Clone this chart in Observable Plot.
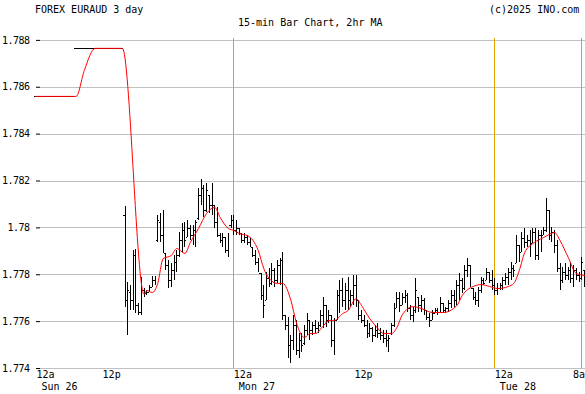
<!DOCTYPE html>
<html><head><meta charset="utf-8">
<script src="https://cdn.jsdelivr.net/npm/d3@7"></script>
<script src="https://cdn.jsdelivr.net/npm/@observablehq/plot@0.6"></script>
<style>
html,body{margin:0;padding:0;background:#fff;}
#wrap{position:relative;width:585px;height:394px;overflow:hidden;font-family:"DejaVu Sans Mono",monospace;font-size:10px;color:#000;background:#fff;}
#head{position:relative;height:30px;}
.t{position:absolute;line-height:10px;white-space:pre;}
#chart svg line{shape-rendering:crispEdges;}
#chart svg g[aria-label="y-axis tick label"] text{letter-spacing:-0.5px;}
</style></head><body>
<div id="wrap">
<div id="head">
<div class="t" style="left:35px;top:5px">FOREX EURAUD 3 day</div>
<div class="t" style="left:238px;top:18px">15-min Bar Chart, 2hr MA</div>
<div class="t" style="left:489px;top:5px">(c)2025 INO.com</div>
</div>
<div id="chart"></div>
</div>
<script>
// y axis
const yTicks = [1.774, 1.776, 1.778, 1.780, 1.782, 1.784, 1.786, 1.788];
const yTickLabels = ["1.774","1.776","1.778","1.78","1.782","1.784","1.786","1.788"];
// x axis (hours from Mon 12a, weekend compressed)
const timeLabels = ["12a","12p","12a","12p","12a","8a"];
const timeLabelHours = [-18.15, -12.07, 0, 11.1, 24, 31.2];
const dayLabels = ["Sun 26","Mon 27","Tue 28"];
const dayLabelHours = [-18.15, 0, 24];
const sessionLines = [0, 24, 32];
// Sunday quotes (flat bars)
const sundayHourStart = -18.25;
const sundayQuotes = [
1.78561,1.78561,1.78561,1.78561,1.78561,1.78561,1.78561,1.78561,1.78561,1.78561,1.78561,1.78561,1.78561,1.78561,1.78561,
1.78766,1.78766,1.78766,1.78766,1.78766,1.78766,1.78766,1.78766,1.78766,1.78766,1.78766,1.78766,1.78766,1.78766,1.78766,1.78766,1.78766,1.78766];
// 15-min bars
const barHourStart = -10;
const barOpen = [
1.78053,1.77690,1.77724,1.77690,1.77882,1.77668,1.77639,1.77733,1.77720,1.77724,
1.77745,1.77775,1.77946,1.78023,1.77967,1.77890,1.77839,1.77775,1.77818,1.77852,
1.77882,1.77946,1.77989,1.77959,1.77997,1.77967,1.77989,1.78040,1.78138,1.78168,
1.78074,1.78138,1.78095,1.78095,1.78023,1.77967,1.77946,1.77959,1.77903,1.78010,
1.78031,1.77989,1.77997,1.77976,1.77946,1.77959,1.77937,1.77916,1.77882,1.77852,
1.77805,1.77711,1.77690,1.77784,1.77762,1.77818,1.77775,1.77839,1.77861,1.77626,
1.77583,1.77498,1.77519,1.77583,1.77476,1.77519,1.77506,1.77562,1.77604,1.77562,
1.77583,1.77570,1.77583,1.77626,1.77668,1.77604,1.77626,1.77519,1.77604,1.77711,
1.77733,1.77690,1.77733,1.77690,1.77711,1.77754,1.77690,1.77626,1.77604,1.77583,
1.77549,1.77570,1.77540,1.77562,1.77549,1.77540,1.77528,1.77519,1.77549,1.77583,
1.77656,1.77698,1.77668,1.77703,1.77711,1.77656,1.77626,1.77647,1.77703,1.77668,
1.77690,1.77647,1.77617,1.77604,1.77634,1.77647,1.77639,1.77677,1.77647,1.77656,
1.77677,1.77711,1.77690,1.77754,1.77775,1.77741,1.77818,1.77839,1.77741,1.77703,
1.77690,1.77733,1.77775,1.77775,1.77809,1.77775,1.77754,1.77733,1.77741,1.77754,
1.77775,1.77788,1.77809,1.77826,1.77848,1.77925,1.77895,1.77955,1.77937,1.77946,
1.77933,1.77980,1.77882,1.77967,1.77967,1.77989,1.78074,1.77967,1.77980,1.77925,
1.77826,1.77775,1.77809,1.77797,1.77818,1.77784,1.77818,1.77797,1.77784,1.77818];
const barHigh = [
1.78091,1.77767,1.77754,1.77903,1.77908,1.77677,1.77788,1.77741,1.77733,1.77754,
1.77792,1.77792,1.78053,1.78061,1.78074,1.77890,1.77861,1.77848,1.77882,1.77903,
1.77980,1.78019,1.78023,1.78031,1.78010,1.78010,1.78031,1.78168,1.78206,1.78181,
1.78189,1.78138,1.78189,1.78095,1.78087,1.77976,1.77976,1.77959,1.77976,1.78053,
1.78053,1.78031,1.77997,1.77976,1.77976,1.77967,1.77955,1.77916,1.77903,1.77869,
1.77805,1.77754,1.77809,1.77826,1.77848,1.77826,1.77861,1.77869,1.77895,1.77626,
1.77617,1.77540,1.77626,1.77604,1.77549,1.77549,1.77583,1.77634,1.77604,1.77596,
1.77604,1.77596,1.77647,1.77703,1.77668,1.77647,1.77626,1.77613,1.77733,1.77775,
1.77784,1.77762,1.77788,1.77733,1.77797,1.77797,1.77690,1.77647,1.77626,1.77604,
1.77592,1.77574,1.77583,1.77592,1.77570,1.77562,1.77562,1.77540,1.77592,1.77677,
1.77724,1.77724,1.77720,1.77733,1.77720,1.77668,1.77660,1.77784,1.77703,1.77711,
1.77698,1.77647,1.77634,1.77647,1.77656,1.77656,1.77703,1.77677,1.77660,1.77690,
1.77733,1.77733,1.77775,1.77805,1.77784,1.77839,1.77869,1.77839,1.77741,1.77724,
1.77745,1.77788,1.77784,1.77826,1.77809,1.77818,1.77784,1.77762,1.77762,1.77788,
1.77805,1.77826,1.77852,1.77839,1.77967,1.77925,1.77980,1.77997,1.77967,1.77989,
1.77997,1.77997,1.77989,1.77989,1.78002,1.78125,1.78074,1.78002,1.77989,1.77946,
1.77848,1.77831,1.77848,1.77831,1.77852,1.77839,1.77826,1.77809,1.77873,1.77818];
const barLow = [
1.77660,1.77540,1.77647,1.77647,1.77634,1.77626,1.77626,1.77703,1.77711,1.77724,
1.77745,1.77754,1.77937,1.77937,1.77890,1.77818,1.77741,1.77745,1.77775,1.77809,
1.77873,1.77895,1.77916,1.77959,1.77946,1.77925,1.77916,1.78031,1.78095,1.78044,
1.78066,1.78061,1.78053,1.77997,1.77959,1.77933,1.77916,1.77890,1.77873,1.77997,
1.77967,1.77967,1.77967,1.77933,1.77933,1.77925,1.77916,1.77873,1.77839,1.77809,
1.77690,1.77613,1.77690,1.77745,1.77754,1.77745,1.77762,1.77754,1.77604,1.77562,
1.77442,1.77421,1.77476,1.77455,1.77442,1.77468,1.77498,1.77540,1.77519,1.77540,
1.77549,1.77549,1.77574,1.77570,1.77574,1.77592,1.77489,1.77455,1.77604,1.77634,
1.77660,1.77647,1.77647,1.77660,1.77668,1.77660,1.77604,1.77592,1.77574,1.77528,
1.77532,1.77511,1.77532,1.77528,1.77519,1.77506,1.77489,1.77468,1.77540,1.77574,
1.77656,1.77639,1.77668,1.77677,1.77639,1.77604,1.77596,1.77634,1.77639,1.77639,
1.77626,1.77604,1.77574,1.77604,1.77634,1.77626,1.77639,1.77634,1.77634,1.77639,
1.77656,1.77660,1.77668,1.77690,1.77720,1.77733,1.77788,1.77745,1.77690,1.77668,
1.77660,1.77720,1.77754,1.77775,1.77762,1.77733,1.77711,1.77711,1.77733,1.77733,
1.77754,1.77754,1.77775,1.77788,1.77848,1.77852,1.77895,1.77912,1.77916,1.77873,
1.77933,1.77861,1.77861,1.77895,1.77967,1.77980,1.77946,1.77937,1.77890,1.77809,
1.77733,1.77762,1.77775,1.77775,1.77762,1.77745,1.77775,1.77767,1.77775,1.77745];
const barClose = [
1.77668,1.77733,1.77690,1.77861,1.77668,1.77639,1.77754,1.77711,1.77724,1.77745,
1.77775,1.77784,1.78031,1.77967,1.77903,1.77839,1.77775,1.77818,1.77861,1.77882,
1.77946,1.77989,1.77946,1.78010,1.77967,1.77989,1.78023,1.78138,1.78181,1.78074,
1.78160,1.78095,1.78117,1.78023,1.77967,1.77946,1.77959,1.77903,1.77967,1.78031,
1.77989,1.78010,1.77976,1.77946,1.77959,1.77937,1.77946,1.77882,1.77852,1.77818,
1.77711,1.77668,1.77784,1.77762,1.77818,1.77775,1.77839,1.77797,1.77626,1.77583,
1.77498,1.77519,1.77583,1.77476,1.77519,1.77498,1.77562,1.77604,1.77562,1.77583,
1.77570,1.77583,1.77626,1.77668,1.77604,1.77626,1.77519,1.77596,1.77711,1.77733,
1.77690,1.77733,1.77690,1.77711,1.77754,1.77690,1.77626,1.77604,1.77583,1.77549,
1.77570,1.77540,1.77562,1.77549,1.77540,1.77528,1.77519,1.77528,1.77583,1.77656,
1.77698,1.77668,1.77703,1.77711,1.77656,1.77626,1.77647,1.77733,1.77668,1.77690,
1.77647,1.77617,1.77604,1.77634,1.77647,1.77639,1.77690,1.77647,1.77656,1.77677,
1.77711,1.77690,1.77754,1.77775,1.77733,1.77818,1.77839,1.77754,1.77703,1.77690,
1.77733,1.77775,1.77762,1.77809,1.77775,1.77754,1.77733,1.77741,1.77754,1.77775,
1.77788,1.77809,1.77826,1.77818,1.77946,1.77882,1.77955,1.77937,1.77946,1.77903,
1.77980,1.77882,1.77967,1.77925,1.77989,1.78095,1.77967,1.77980,1.77925,1.77826,
1.77775,1.77809,1.77797,1.77818,1.77784,1.77818,1.77797,1.77784,1.77852,1.77775];
// 2hr moving average
const maHours = [-18.25,-14.5,-13.75,-12.75,-10.25,-8.25,-8,-7.5,-7,-6.5,-5.75,-5.25,-4.5,-4,-3.25,-2.5,-1.75,-1.25,-0.5,0,0.5,1.25,2.25,2.75,3.25,4,4.5,5.25,5.75,6.5,7,7.5,8.25,8.75,9.25,10,10.5,11.25,11.75,12.5,13.25,13.75,14.5,15,15.5,16.5,17.25,18.25,19.25,20.5,21,22,22.75,23.5,24.25,25.25,25.75,26.25,26.75,27.5,28.5,29.5,30,30.75,31.5,32.25];
const maValues = [1.78561,1.78561,1.78672,1.78766,1.78766,1.77716,1.77733,1.77724,1.77763,1.77869,1.77882,1.77912,1.77891,1.77938,1.77997,1.78062,1.78087,1.78044,1.77997,1.77989,1.77976,1.77967,1.77903,1.77827,1.77784,1.77763,1.77763,1.77690,1.77596,1.77532,1.77549,1.77549,1.77583,1.77605,1.77605,1.77634,1.77647,1.77698,1.77668,1.77613,1.77571,1.77549,1.77549,1.77575,1.77630,1.77664,1.77656,1.77639,1.77639,1.77668,1.77711,1.77750,1.77758,1.77750,1.77741,1.77750,1.77763,1.77818,1.77895,1.77933,1.77959,1.77980,1.77946,1.77874,1.77805,1.77797];

const bars = [];
sundayQuotes.forEach((v, i) => bars.push({t: sundayHourStart + i / 4, open: v, high: v, low: v, close: v}));
barOpen.forEach((v, i) => bars.push({t: barHourStart + i / 4, open: v, high: barHigh[i], low: barLow[i], close: barClose[i]}));
const ma = maHours.map((t, i) => ({t, v: maValues[i]}));
const tickLen = 0.125;

const chart = Plot.plot({
  width: 585, height: 364,
  marginTop: 8, marginBottom: 26, marginLeft: 40, marginRight: 0,
  style: {fontFamily: "'DejaVu Sans Mono', monospace", fontSize: "10px", color: "#000", background: "#fff", overflow: "visible"},
  x: {domain: [-17.78, 32.34], axis: null},
  y: {domain: [1.774, 1.78808], axis: null},
  marks: [
    Plot.ruleY(yTicks, {stroke: "#c0c0c0"}),
    Plot.ruleX(sessionLines, {stroke: "#e8a000"}),
    Plot.ruleX(bars, {x: "t", y1: "low", y2: "high", stroke: "#000"}),
    Plot.ruleY(bars, {y: "open", x1: d => d.t - tickLen, x2: "t", stroke: "#000"}),
    Plot.ruleY(bars, {y: "close", x1: "t", x2: d => d.t + tickLen, stroke: "#000"}),
    Plot.line(ma, {x: "t", y: "v", stroke: "#ff0000", strokeWidth: 1, curve: "monotone-x"}),
    Plot.axisY(yTicks, {anchor: "left", tickSize: 4, tickPadding: 7, label: null, fontSize: 10,
      tickFormat: d => yTickLabels[yTicks.indexOf(d)]}),
    Plot.text(timeLabels, {x: (d, i) => timeLabelHours[i], text: d => d, frameAnchor: "bottom",
      textAnchor: "start", lineAnchor: "top", dy: 2, fontSize: 10, fill: "#000"}),
    Plot.text(dayLabels, {x: (d, i) => dayLabelHours[i], text: d => d, frameAnchor: "bottom",
      textAnchor: "start", lineAnchor: "top", dx: 5, dy: 14, fontSize: 10, fill: "#000"})
  ]
});
document.getElementById("chart").appendChild(chart);
</script>
</body></html>
